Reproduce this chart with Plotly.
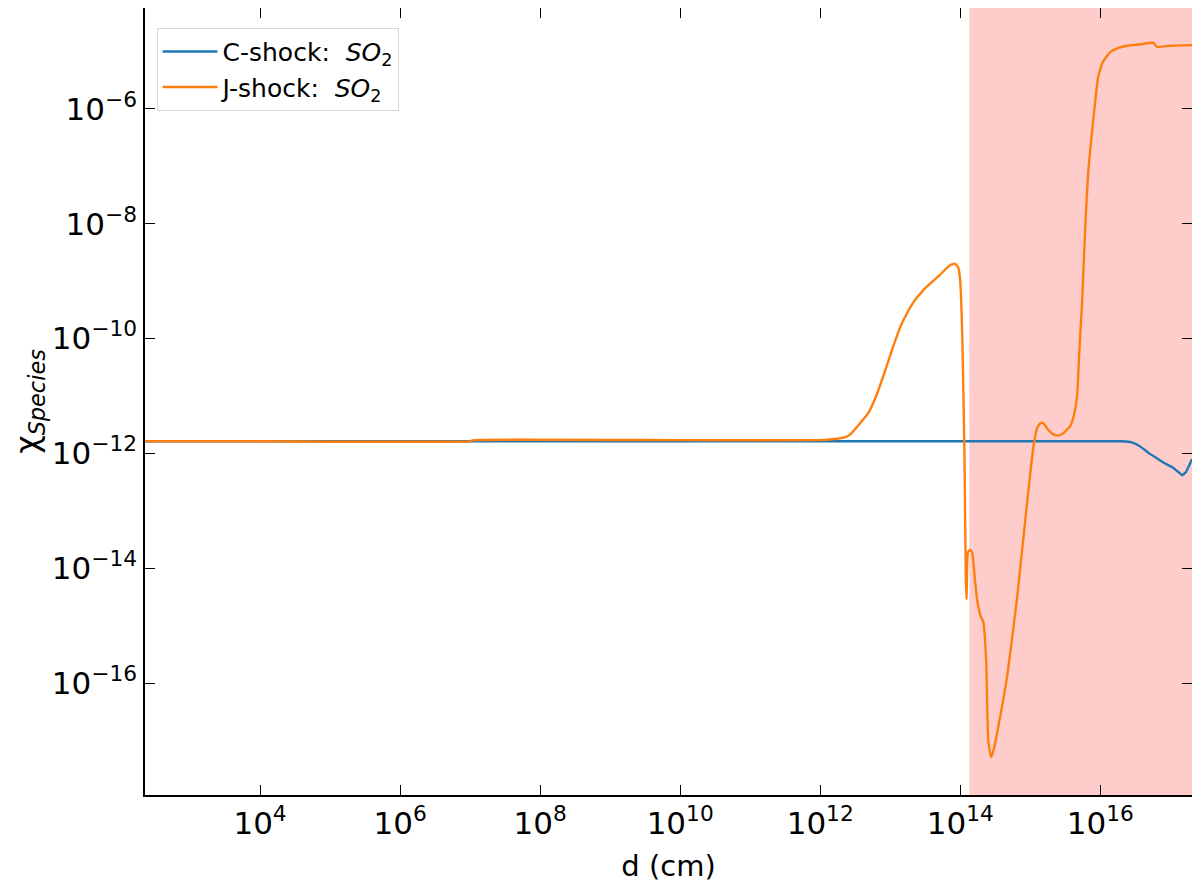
import plotly.graph_objects as go

# log10 of distance (cm) and log10 of abundance
c_logd = [2.36, 4.0, 8.0, 12.0, 14.0, 16.0, 16.3, 16.45, 16.57, 16.7, 16.8, 16.9, 17.04,
          17.12, 17.17, 17.22, 17.31]
c_logx = [-11.79, -11.79, -11.79, -11.79, -11.79, -11.79, -11.79, -11.81, -11.88, -12.0,
          -12.08, -12.16, -12.25, -12.33, -12.38, -12.33, -12.1]

j_logd = [2.36, 4.0, 7.0, 7.05, 10.0, 12.0, 12.2, 12.35, 12.43, 12.69, 12.8, 12.9, 13.02,
          13.14, 13.24, 13.33, 13.47, 13.61, 13.71, 13.81, 13.88, 13.93, 13.97, 14.0,
          14.03, 14.06, 14.08, 14.09, 14.11, 14.14, 14.17, 14.21, 14.24, 14.29, 14.33,
          14.37, 14.4, 14.44, 14.48, 14.53, 14.67, 14.81, 14.96, 15.04, 15.1, 15.15,
          15.19, 15.25, 15.33, 15.4, 15.48, 15.57, 15.63, 15.67, 15.7, 15.74, 15.79,
          15.83, 15.9, 15.97, 16.03, 16.14, 16.25, 16.39, 16.6, 16.76, 16.81, 17.0, 17.31]
j_logx = [-11.79, -11.79, -11.79, -11.77, -11.77, -11.77, -11.75, -11.72, -11.67, -11.29,
          -11.0, -10.66, -10.22, -9.81, -9.56, -9.37, -9.16, -9.0, -8.89, -8.77, -8.71,
          -8.70, -8.76, -9.0, -10.0, -12.0, -14.2, -14.54, -13.72, -13.68, -13.72,
          -14.2, -14.54, -14.83, -14.94, -15.6, -17.0, -17.29, -17.15, -16.85, -15.88,
          -14.54, -12.8, -11.93, -11.55, -11.47, -11.48, -11.58, -11.67, -11.69, -11.64,
          -11.53, -11.3, -11.0, -10.24, -9.37, -7.93, -7.06, -6.19, -5.44, -5.2, -5.01,
          -4.94, -4.9, -4.87, -4.85, -4.92, -4.9, -4.89]

shade_start = 10 ** 14.13
x_range = [2.357, 17.31]
y_range = [-17.95, -4.243]

x_ticks = [4, 6, 8, 10, 12, 14, 16]
y_ticks = [-16, -14, -12, -10, -8, -6]

font = "DejaVu Sans"

fig = go.Figure()
fig.add_trace(go.Scatter(x=[10 ** v for v in c_logd], y=[10 ** v for v in c_logx],
                         mode="lines", line=dict(color="#1f77b4", width=2.4,
                                                 shape="spline", smoothing=0.4),
                         name="C-shock:  <i>SO</i><sub>2</sub>"))
fig.add_trace(go.Scatter(x=[10 ** v for v in j_logd], y=[10 ** v for v in j_logx],
                         mode="lines", line=dict(color="#ff7f0e", width=2.4,
                                                 shape="spline", smoothing=0.4),
                         name="J-shock:  <i>SO</i><sub>2</sub>"))

fig.add_shape(type="rect", xref="x", yref="paper", x0=shade_start, x1=10 ** x_range[1],
              y0=0, y1=1, fillcolor="#ffcccc", line_width=0, layer="below")

axis_common = dict(type="log", showline=True, linecolor="black", linewidth=1.5,
                   mirror="allticks", ticks="inside", ticklen=10, tickwidth=1.3,
                   tickcolor="black", showgrid=False, zeroline=False, automargin=False,
                   tickfont=dict(family=font, size=31, color="black"))

fig.update_xaxes(range=x_range, tickvals=[10 ** t for t in x_ticks],
                 ticktext=["10<sup>%d</sup>" % t for t in x_ticks],
                 title=dict(text="d (cm)", font=dict(family=font, size=29, color="black"),
                            standoff=16),
                 **axis_common)
fig.update_yaxes(range=y_range, tickvals=[10 ** t for t in y_ticks],
                 ticktext=["10<sup>\u2212%d</sup>" % -t for t in y_ticks],
                 title=dict(text="\u03c7<sub><i>Species</i></sub>",
                            font=dict(family=font, size=32, color="black"), standoff=6),
                 **axis_common)

# the page body adds an 8px margin, so the figure is sized to fill the rest
fig.update_layout(
    width=1192, height=877,
    margin=dict(l=137, r=8, t=0, b=90),
    plot_bgcolor="white", paper_bgcolor="white",
    font=dict(family=font, color="black"),
    legend=dict(x=0.011, y=0.975, xanchor="left", yanchor="top",
                bgcolor="white", bordercolor="#d8d8d8", borderwidth=1,
                tracegroupgap=0, itemwidth=55,
                font=dict(family=font, size=25, color="black")),
)

fig.write_html("out.html")
